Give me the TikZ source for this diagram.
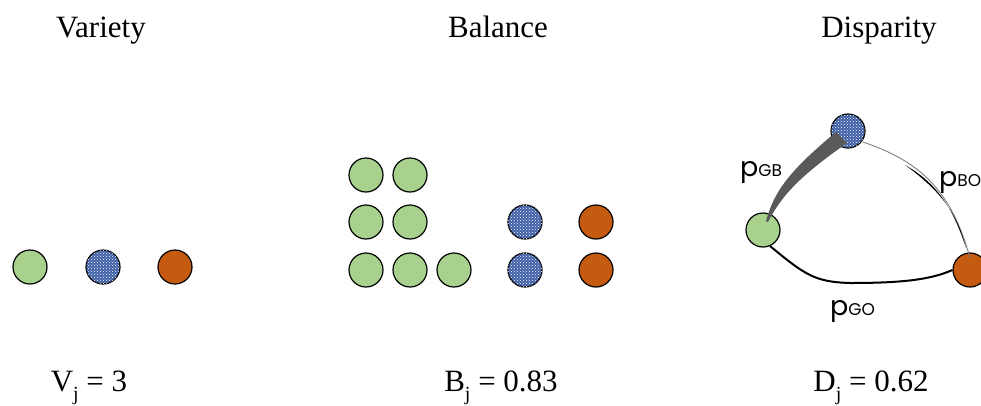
\documentclass[tikz,border=0pt]{standalone}
\usepackage{fontspec}
\setmainfont{Liberation Serif}
\newfontfamily\plabfont{Poppins}
\usetikzlibrary{patterns,calc}

\definecolor{ballgreen}{HTML}{A9D18E}
\definecolor{ballblue}{HTML}{3E5FA8}
\definecolor{ballorange}{HTML}{C55A11}
\definecolor{edgegray}{HTML}{5A5A5A}

\newcommand{\lowidx}[1]{\raisebox{-.3em}{\fontsize{20}{20}\selectfont #1}}
\newcommand{\plab}[1]{{\plabfont\fontsize{27}{27}\selectfont p\fontsize{17}{17}\selectfont #1}}

\tikzset{
  ball/.style={circle,draw=black,line width=1.2pt,minimum size=34pt,inner sep=0pt},
  gball/.style={ball,fill=ballgreen},
  bball/.style={ball,fill=ballblue,postaction={pattern=crosshatch dots,pattern color=white}},
  oball/.style={ball,fill=ballorange},
  heading/.style={font=\fontsize{31}{31}\selectfont,anchor=base},
  score/.style={font=\fontsize{31}{31}\selectfont,anchor=base}
}

\begin{document}
\begin{tikzpicture}[x=1pt,y=-1pt]
\useasboundingbox (0,0) rectangle (981,405);

% headings
\node[heading] (tvar) at (101,37) {Variety};
\node[heading] (tbal) at (498,37) {Balance};
\node[heading] (tdis) at (879,37) {Disparity};

% variety
\node[gball] (vg) at (30,267) {};
\node[bball] (vb) at (103,267) {};
\node[oball] (vo) at (175,267) {};

% balance
\foreach \x/\y/\n in {366/175/1,410/175/2,366/222/3,410/222/4,366/270/5,410/270/6,454/270/7}
  \node[gball] (bg\n) at (\x,\y) {};
\node[bball] (bb1) at (525,222) {};
\node[bball] (bb2) at (525,270) {};
\node[oball] (bo1) at (596,222) {};
\node[oball] (bo2) at (596,270) {};

% disparity
\node[gball] (dg) at (763,230) {};
\node[bball] (db) at (848,131) {};
\node[oball] (do) at (970,270) {};

% links
\fill[edgegray] ($(dg.center)+(3,-9)$) .. controls (774,192) and (788,172) .. ($(db.center)+(-12,1)$)
  -- ($(db.center)+(-1,12)$) .. controls (800,176) and (782,195) .. ($(dg.center)+(5,-8)$) -- cycle;
\draw[gray,line width=.9pt] ($(db.center)+(15,11)$) .. controls (915,160) and (950,185) .. ($(do.center)+(0,-12)$);
\fill[black] (905,165) .. controls (935,182) and (952,205) .. (966,248)
  .. controls (958,215) and (942,192) .. (905,165) -- cycle;
\draw[black,line width=2pt] ($(dg.center)+(7,16)$) .. controls (805,275) and (815,282) .. (850,283)
  .. controls (900,283) and (930,280) .. (do.west);

\node[anchor=base west,inner sep=0pt] (lgb) at (740,176) {\plab{GB}};
\node[anchor=base west,inner sep=0pt] (lbo) at (939,186) {\plab{BO}};
\node[anchor=base west,inner sep=0pt] (lgo) at (830,315) {\plab{GO}};

% scores
\node[score] (svar) at (89,391) {V\lowidx{j} = 3};
\node[score] (sbal) at (501,391) {B\lowidx{j} = 0.83};
\node[score] (sdis) at (871,391) {D\lowidx{j} = 0.62};
\end{tikzpicture}
\end{document}
